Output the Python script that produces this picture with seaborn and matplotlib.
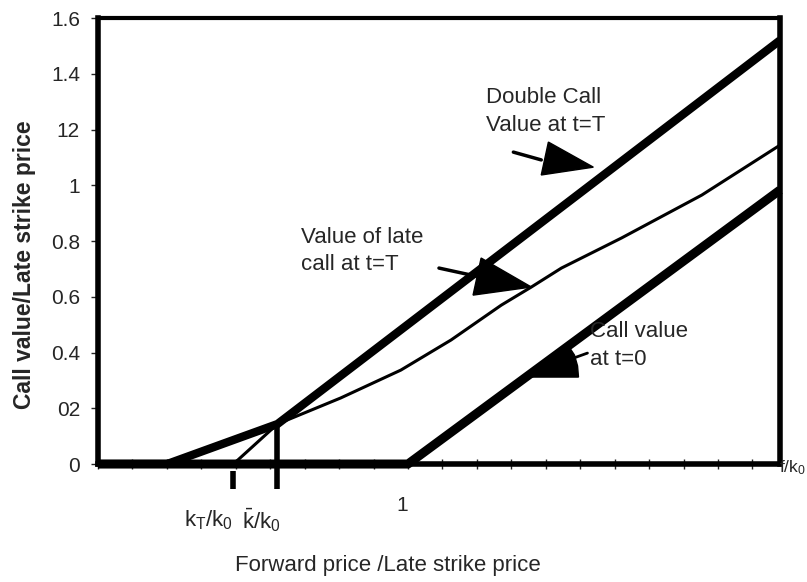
import numpy as np
import pandas as pd
import matplotlib
matplotlib.use("Agg")
import matplotlib.pyplot as plt
import seaborn as sns

# ---- data (f/k0 on x, value / late strike on y) ----
double_x = [0.0, 0.223, 0.579, 2.2]
double_y = [0.0, 0.0, 0.1435, 1.52]

late_x = [0.437, 0.579, 0.783, 0.977, 1.139, 1.301, 1.398, 1.495, 1.689, 1.948, 2.2]
late_y = [0.0, 0.1435, 0.237, 0.337, 0.445, 0.570, 0.635, 0.703, 0.811, 0.965, 1.144]

call0_x = [0.0, 1.0, 2.2]
call0_y = [0.0, 0.0, 0.983]

ytick_vals = [0, 0.2, 0.4, 0.6, 0.8, 1.0, 1.2, 1.4, 1.6]
ytick_labels = ["0", "02", "0.4", "0.6", "0.8", "1", "12", "1.4", "1.6"]

k_T = 0.437
k_bar = 0.579

sns.set_style("white")
plt.rcParams['font.family'] = ['Liberation Sans', 'DejaVu Sans']
plt.rcParams['mathtext.default'] = 'regular'

fig = plt.figure(figsize=(8.07, 5.82), dpi=100)
ax = fig.add_axes([0.1214, 0.2027, 0.9665 - 0.1214, 0.969 - 0.2027])

df_double = pd.DataFrame({"x": double_x, "y": double_y})
df_late = pd.DataFrame({"x": late_x, "y": late_y})
df_call0 = pd.DataFrame({"x": call0_x, "y": call0_y})

sns.lineplot(data=df_double, x="x", y="y", ax=ax, color="black", linewidth=6,
             sort=False, estimator=None, solid_capstyle="butt")
sns.lineplot(data=df_late, x="x", y="y", ax=ax, color="black", linewidth=2.2,
             sort=False, estimator=None)
sns.lineplot(data=df_call0, x="x", y="y", ax=ax, color="black", linewidth=6.5,
             sort=False, estimator=None, solid_capstyle="butt", clip_on=False)

ax.set_xlim(0, 2.2)
ax.set_ylim(0, 1.6)

# frame
for side, w in [("left", 4), ("right", 4), ("top", 3), ("bottom", 4)]:
    ax.spines[side].set_visible(True)
    ax.spines[side].set_color("black")
    ax.spines[side].set_linewidth(w)

ax.set_yticks(ytick_vals)
ax.set_yticklabels(ytick_labels, fontsize=15)
ax.set_xticks(np.arange(0, 2.21, 1 / 9))
ax.set_xticklabels([])
ax.tick_params(axis="y", direction="out", length=5, width=1, pad=8, left=True)
ax.tick_params(axis="x", direction="inout", length=7, width=1, bottom=True)

# markers below the axis for k_T/k_0 and k-bar/k_0
ax.plot([k_T, k_T], [-0.025, -0.09], color="black", lw=4, clip_on=False, solid_capstyle="butt")
ax.plot([k_bar, k_bar], [0.1435, -0.09], color="black", lw=4, clip_on=False, solid_capstyle="butt")

ax.text(k_T, -0.2, r"$k_T/k_0$", ha="right", va="center", fontsize=16)
ax.text(k_bar + 0.01, -0.2, r"$\bar{k}/k_0$", ha="right", va="center", fontsize=16)
ax.text(0.98, -0.148, "1", ha="center", va="center", fontsize=15)
fig.text(0.999, 0.196, r"$f/k_0$", ha="right", va="center", fontsize=12.5)

ax.set_xlabel("Forward price /Late strike price", fontsize=16)
ax.xaxis.set_label_coords(0.425, -0.205)
ax.set_ylabel("Call value/Late strike price", fontsize=16.5, fontweight="bold")
ax.yaxis.set_label_coords(-0.091, 0.448)

# annotation texts
ax.text(1.252, 1.352, "Double Call\nValue at t=T", ha="left", va="top", fontsize=16, linespacing=1.4)
ax.text(0.654, 0.85, "Value of late\ncall at t=T", ha="left", va="top", fontsize=16, linespacing=1.4)
ax.text(1.586, 0.512, "Call value\nat t=0", ha="left", va="top", fontsize=16, linespacing=1.4)

# arrow heads and tails
tri1 = [(1.453, 1.155), (1.430, 1.037), (1.598, 1.065)]
tri2 = [(1.236, 0.739), (1.210, 0.606), (1.398, 0.635)]
wedge = [(1.388, 0.312), (1.518, 0.423), (1.537, 0.391), (1.547, 0.352), (1.550, 0.312)]
for poly in (tri1, tri2, wedge):
    ax.add_patch(plt.Polygon(poly, closed=True, color="black"))
ax.plot([1.340, 1.430], [1.119, 1.091], color="black", lw=2.5)
ax.plot([1.100, 1.220], [0.703, 0.674], color="black", lw=2.5)
ax.plot([1.534, 1.579], [0.380, 0.398], color="black", lw=2)

fig.savefig("out.png", dpi=100)
